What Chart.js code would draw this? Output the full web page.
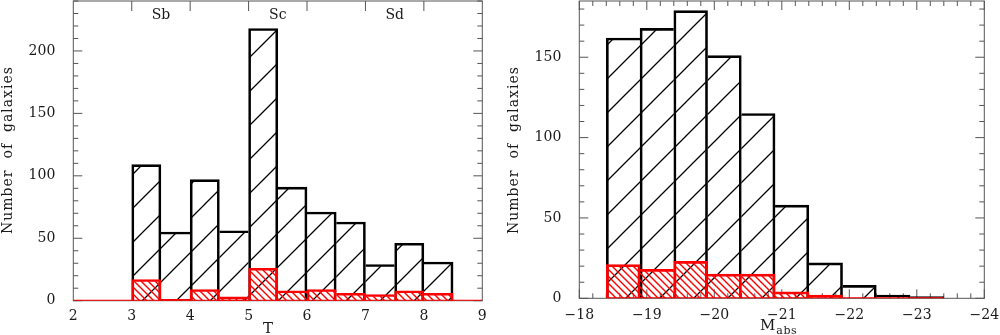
<!DOCTYPE html>
<html><head><meta charset="utf-8">
<script src="https://cdn.jsdelivr.net/npm/chart.js@4.4.1/dist/chart.umd.min.js"></script>
<style>
html,body{margin:0;padding:0;background:#fff;}
#wrap{position:relative;width:1000px;height:335px;overflow:hidden;background:#fff;}
canvas{position:absolute;top:0;}
</style></head><body>
<div id="wrap">
<canvas id="c1" width="500" height="335" style="left:0"></canvas>
<canvas id="c2" width="500" height="335" style="left:500px"></canvas>
</div>
<script>
// ---- Left panel: morphological type T ----
const tBinCenters = [3.25, 3.75, 4.25, 4.75, 5.25, 5.75, 6.25, 6.75, 7.25, 7.75, 8.25];
const tAll = [109, 55, 97, 56, 218, 91, 71, 63, 29, 46, 31];
const tSub = [17, 1, 9, 3, 26, 8, 9, 6, 5, 8, 6];
const tTypeLabels = ['Sb', 'Sc', 'Sd'];
const tTypePositions = [3.5, 5.5, 7.5];
const tTopTicks = [3, 4, 5, 6, 7, 8];
const tBaseline = [2, 9];
const tRange = [2, 9];
const yLeftMax = 240;

// ---- Right panel: absolute magnitude ----
const mBinCenters = [-18.65, -19.15, -19.65, -20.15, -20.65, -21.15, -21.65, -22.15, -22.65, -23.15];
const mAll = [162, 168, 179, 151, 115, 58, 22, 8, 2, 1];
const mSub = [21, 18, 23, 15, 15, 4, 2, 0, 0, 0];
const mBaseline = [-18.4, -23.4];
const mRange = [-24, -18];
const yRightMax = 185;

const yTitle = 'Number  of  galaxies';
const FONT = '"DejaVu Serif", "Liberation Serif", serif';
const TXT = '#1a1a1a';
const FRAME = '#555';

function hatch(size, dir, color, lw, shift) {
  const c = document.createElement('canvas');
  c.width = size; c.height = size;
  const g = c.getContext('2d');
  g.strokeStyle = color; g.lineWidth = lw;
  g.beginPath();
  for (let k = -1; k <= 1; k++) {
    if (dir === '/') { g.moveTo(k * size - 1, size + 1); g.lineTo(k * size + size + 1, -1); }
    else { g.moveTo(k * size - 1, -1); g.lineTo(k * size + size + 1, size + 1); }
  }
  g.stroke();
  const p = g.createPattern(c, 'repeat');
  p.setTransform(new DOMMatrix([1, 0, 0, 1, shift, 0]));
  return p;
}

function edges(vals, w) {
  return vals.map((v, i) => ({
    top: w, bottom: 0,
    left: (i === 0 || vals[i - 1] < v) ? w : 0,
    right: (i === vals.length - 1 || vals[i + 1] <= v) ? w : 0
  }));
}

function range(a, b, step) {
  const out = [];
  for (let v = a; v <= b + 1e-9; v += step) out.push(Math.round(v * 1000) / 1000);
  return out;
}

function fmtMinus(v) { return v < 0 ? '\u2212' + Math.abs(v) : String(v); }

function framePlugin(spec) {
  return {
    id: 'frame',
    beforeDatasetsDraw(chart) {
      const { ctx, chartArea: a, scales } = chart;
      ctx.save();
      ctx.strokeStyle = FRAME;
      ctx.lineWidth = 1;
      ctx.strokeRect(a.left, a.top, a.right - a.left, a.bottom - a.top);
      ctx.beginPath();
      const xs = scales.x, ys = scales.y;
      (spec.xTop || []).forEach(([v, len]) => { const p = xs.getPixelForValue(v); ctx.moveTo(p, a.top); ctx.lineTo(p, a.top + len); });
      (spec.xBottom || []).forEach(([v, len]) => { const p = xs.getPixelForValue(v); ctx.moveTo(p, a.bottom); ctx.lineTo(p, a.bottom - len); });
      (spec.y || []).forEach(([v, len]) => {
        const p = ys.getPixelForValue(v);
        ctx.moveTo(a.left, p); ctx.lineTo(a.left + len, p);
        ctx.moveTo(a.right, p); ctx.lineTo(a.right - len, p);
      });
      ctx.stroke();
      ctx.restore();
    }
  };
}

function textPlugin(spec) {
  return {
    id: 'texts',
    afterDraw(chart) {
      const { ctx, scales } = chart;
      ctx.save();
      ctx.fillStyle = TXT;
      ctx.save();
      ctx.translate(spec.yTitleX, spec.yTitleY);
      ctx.rotate(-Math.PI / 2);
      ctx.font = '14px ' + FONT;
      ctx.letterSpacing = '1px';
      ctx.textAlign = 'center';
      ctx.textBaseline = 'alphabetic';
      ctx.fillText(yTitle, 0, 0);
      ctx.restore();
      ctx.font = '15px ' + FONT;
      ctx.textBaseline = 'alphabetic';
      ctx.textAlign = 'left';
      ctx.fillText(spec.xTitle, spec.xTitleX, spec.xTitleY);
      if (spec.xSub) {
        const w = ctx.measureText(spec.xTitle).width;
        ctx.font = '11px ' + FONT;
        ctx.letterSpacing = '0.5px';
        ctx.fillText(spec.xSub, spec.xTitleX + w + 1, spec.xTitleY + 4);
        ctx.letterSpacing = '0px';
      }
      if (spec.topLabels) {
        ctx.font = '14px ' + FONT;
        ctx.textAlign = 'center';
        ctx.textBaseline = 'middle';
        spec.topLabels.forEach((t, i) => ctx.fillText(t, scales.x.getPixelForValue(spec.topPos[i]), 15));
      }
      ctx.restore();
    }
  };
}

function barDataset(centers, vals, color, pattern, order) {
  const w = edges(vals, 2);
  return {
    type: 'bar',
    data: centers.map((x, i) => ({ x: x, y: vals[i] })),
    backgroundColor: pattern,
    borderColor: color,
    borderWidth: (c) => w[c.dataIndex] || 0,
    borderSkipped: false,
    grouped: false,
    barPercentage: 1,
    categoryPercentage: 1,
    order: order
  };
}

function baseDataset(xs) {
  return {
    type: 'line',
    data: xs.map(x => ({ x: x, y: 0 })),
    borderColor: '#ff0000',
    borderWidth: 2,
    pointRadius: 0,
    fill: false,
    order: -1
  };
}

function makeOptions(o) {
  return {
    responsive: false,
    animation: false,
    devicePixelRatio: 1,
    layout: { padding: { top: 1, right: o.padRight, left: 0, bottom: 0 } },
    plugins: { legend: { display: false }, tooltip: { enabled: false } },
    scales: {
      x: {
        type: 'linear', min: o.xMin, max: o.xMax, reverse: !!o.reverse, offset: false,
        grid: { display: false }, border: { display: false },
        ticks: { stepSize: 1, padding: o.xPad, color: TXT, font: { family: FONT, size: 14 }, callback: (v) => fmtMinus(v), maxRotation: 0, autoSkip: false },
        afterFit: (s) => { s.height = o.xH; s.paddingLeft = 0; s.paddingRight = 0; s.paddingTop = 0; s.paddingBottom = 0; }
      },
      y: {
        min: 0, max: o.yMax,
        grid: { display: false }, border: { display: false },
        ticks: { stepSize: 50, padding: 10, color: TXT, font: { family: FONT, size: 14 } },
        afterBuildTicks: (s) => { s.ticks = s.ticks.filter(t => t.value % 50 === 0); },
        afterFit: (s) => { s.width = o.yW; s.paddingTop = 0; s.paddingBottom = 0; s.paddingLeft = 0; s.paddingRight = 0; }
      }
    }
  };
}

new Chart(document.getElementById('c1'), {
  type: 'bar',
  data: {
    datasets: [
      baseDataset(tBaseline),
      barDataset(tBinCenters, tSub, '#ff0000', hatch(7, '\\', '#ff0000', 1.4, 0), 0),
      barDataset(tBinCenters, tAll, '#000000', hatch(34, '/', '#000000', 1.3, 1), 1)
    ]
  },
  options: makeOptions({ xMin: tRange[0], xMax: tRange[1], yMax: yLeftMax, padRight: 17.7, xH: 34.3, yW: 73.3, xPad: -1 }),
  plugins: [
    framePlugin({
      xTop: tTopTicks.map(v => [v, 10]),
      y: range(0, yLeftMax, 10).map(v => [v, v % 50 === 0 ? 9 : 5])
    }),
    textPlugin({ yTitleX: 12, yTitleY: 150, xTitle: 'T', xTitleX: 263, xTitleY: 333, topLabels: tTypeLabels, topPos: tTypePositions })
  ]
});

new Chart(document.getElementById('c2'), {
  type: 'bar',
  data: {
    datasets: [
      baseDataset(mBaseline),
      barDataset(mBinCenters, mSub, '#ff0000', hatch(7, '\\', '#ff0000', 1.4, 0), 0),
      barDataset(mBinCenters, mAll, '#000000', hatch(34, '/', '#000000', 1.3, 16), 1)
    ]
  },
  options: makeOptions({ xMin: mRange[0], xMax: mRange[1], reverse: true, yMax: yRightMax, padRight: 15.7, xH: 36.7, yW: 79.3, xPad: 1 }),
  plugins: [
    framePlugin({
      xTop: range(mRange[0], mRange[1], 0.2).map(v => [v, Math.abs(v - Math.round(v)) < 1e-6 ? 9 : 5]),
      xBottom: range(mRange[0], mRange[1], 0.2).map(v => [v, Math.abs(v - Math.round(v)) < 1e-6 ? 9 : 5]),
      y: range(0, 180, 10).map(v => [v, v % 50 === 0 ? 9 : 5])
    }),
    textPlugin({ yTitleX: 17.5, yTitleY: 150, xTitle: 'M', xSub: 'abs', xTitleX: 260, xTitleY: 330 })
  ]
});
</script>
</body></html>
